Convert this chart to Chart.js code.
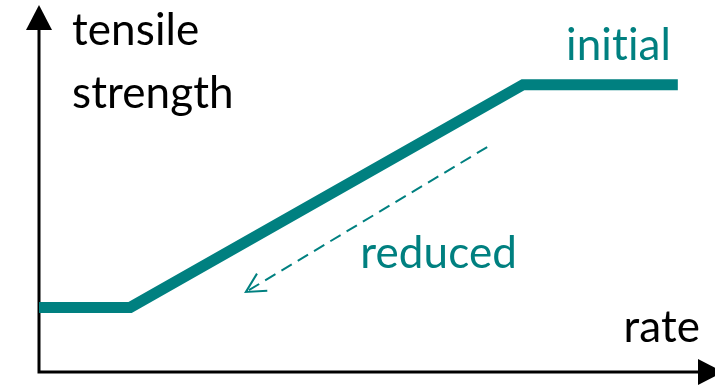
<!DOCTYPE html>
<html>
<head>
<meta charset="utf-8">
<script src="https://cdn.jsdelivr.net/npm/chart.js@4.4.1/dist/chart.umd.min.js"></script>
<style>
    html, body { margin: 0; padding: 0; background: #ffffff; }
    #wrap { position: relative; width: 715px; height: 387px; }
</style>
</head>
<body>
<div id="wrap"><canvas id="grafica"></canvas></div>
<script>
// strength vs rate, both in relative units (0..100)
var rateInitial     = [-0.4, 13.5, 71.6, 94.5];
var strengthInitial = [17.6, 17.6, 78.3, 78.3];

// dashed arrow: from the initial curve down towards the reduced one
var rateShift     = [66.3, 30.6];
var strengthShift = [61.3, 21.8];

var axisLabelY = ['tensile', 'strength'];
var axisLabelX = 'rate';
var curveLabels = ['initial', 'reduced'];

var TEAL = '#008080';
var FONT = 'Lato, "Open Sans", sans-serif';

function toPoints(xs, ys) {
    return xs.map(function(x, i) { return { x: x, y: ys[i] }; });
}

function arrowHead(ctx, x, y, angle, len, half, filled) {
    ctx.save();
    ctx.translate(x, y);
    ctx.rotate(angle);
    ctx.beginPath();
    ctx.moveTo(-len, -half);
    ctx.lineTo(0, 0);
    ctx.lineTo(-len, half);
    if (filled) {
        ctx.closePath();
        ctx.fill();
    } else {
        ctx.stroke();
    }
    ctx.restore();
}

// black axes with filled arrowheads
var axesPlugin = {
    id: 'axesArrows',
    beforeDatasetsDraw: function(chart) {
        var ctx = chart.ctx;
        var a = chart.chartArea;
        ctx.save();
        ctx.strokeStyle = '#000';
        ctx.fillStyle = '#000';
        ctx.lineWidth = 3;
        ctx.lineCap = 'butt';
        ctx.beginPath();
        ctx.moveTo(a.left, a.bottom + 1.5);
        ctx.lineTo(a.left, a.top + 20);
        ctx.moveTo(a.left - 1.5, a.bottom);
        ctx.lineTo(a.right - 10, a.bottom);
        ctx.stroke();
        arrowHead(ctx, a.left, a.top, -Math.PI / 2, 25, 13, true);
        arrowHead(ctx, a.right + 8, a.bottom, 0, 25, 13, true);
        ctx.restore();
    }
};

// open arrowhead at the end of the dashed line, plus the text labels
var labelsPlugin = {
    id: 'labels',
    afterDatasetsDraw: function(chart) {
        var ctx = chart.ctx;
        var pts = chart.getDatasetMeta(1).data;
        var p0 = pts[0], p1 = pts[1];
        var ang = Math.atan2(p1.y - p0.y, p1.x - p0.x);

        ctx.save();
        ctx.strokeStyle = TEAL;
        ctx.lineWidth = 2;
        ctx.setLineDash([]);
        arrowHead(ctx, p1.x, p1.y, ang, 19, 10, false);

        ctx.font = '44px ' + FONT;
        // tiny spacing keeps Lato from joining "ti" into a ligature
        ctx.letterSpacing = '0.1px';
        ctx.textBaseline = 'alphabetic';
        ctx.textAlign = 'left';
        ctx.fillStyle = '#000';
        ctx.fillText(axisLabelY[0], 72, 45);
        ctx.fillText(axisLabelY[1], 72, 108);
        ctx.textAlign = 'right';
        ctx.fillText(axisLabelX, 700, 342);

        ctx.fillStyle = TEAL;
        ctx.fillText(curveLabels[0], 671, 60);
        ctx.fillText(curveLabels[1], 517, 268);
        ctx.restore();
    }
};

var ctx = document.getElementById('grafica').getContext('2d');
var chart = new Chart(ctx, {
    type: 'scatter',
    plugins: [axesPlugin, labelsPlugin],
    data: {
        datasets: [{
            data: toPoints(rateInitial, strengthInitial),
            showLine: true,
            borderColor: TEAL,
            borderWidth: 11,
            borderCapStyle: 'butt',
            borderJoinStyle: 'miter',
            pointRadius: 0,
            tension: 0
        }, {
            data: toPoints(rateShift, strengthShift),
            showLine: true,
            borderColor: TEAL,
            borderWidth: 2,
            borderDash: [12, 7],
            pointRadius: 0,
            tension: 0
        }]
    },
    options: {
        responsive: true,
        maintainAspectRatio: false,
        animation: false,
        layout: { padding: { left: 39, right: 0, top: 5, bottom: 15 } },
        scales: {
            x: { type: 'linear', min: 0, max: 100, display: false },
            y: { type: 'linear', min: 0, max: 100, display: false }
        },
        plugins: {
            legend: { display: false },
            tooltip: { enabled: false }
        }
    }
});
</script>
</body>
</html>
